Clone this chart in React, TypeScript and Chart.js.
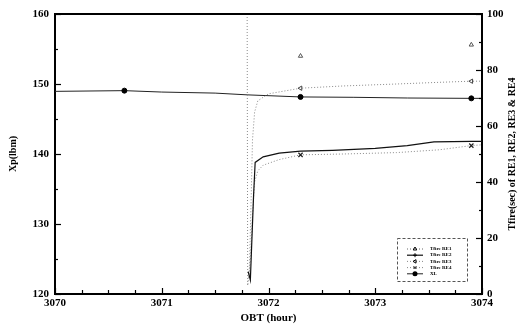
import React, { useEffect, useRef } from "react";
import { Chart, registerables } from "chart.js";
Chart.register(...registerables);

// ---- data ----
const X_LABEL = "OBT (hour)";
const Y_LEFT_LABEL = "Xp(lbm)";
const Y_RIGHT_LABEL = "Tfire(sec) of RE1, RE2, RE3 & RE4";

const MARKER_HOURS = [3070.65, 3072.3, 3073.9];

const RE1_HOURS = [3072.3, 3073.9];
const RE1 = [85, 89];

const RE2_HOURS = [3071.81, 3071.83, 3071.84, 3071.86, 3071.875, 3071.95, 3072.1, 3072.3, 3072.6, 3073.0, 3073.3, 3073.55, 3073.9, 3074];
const RE2 = [8, 5, 15, 35, 47, 49, 50.3, 51, 51.3, 52, 53, 54.3, 54.5, 54.5];

const RE3_HOURS = [3071.8, 3071.805, 3071.82, 3071.835, 3071.85, 3071.87, 3071.9, 3072.0, 3072.3, 3072.7, 3073.2, 3073.6, 3073.9, 3074];
const RE3 = [100, 3, 8, 30, 55, 65, 69, 71.5, 73.5, 74.3, 75, 75.6, 76, 76];

const RE4_HOURS = [3071.815, 3071.83, 3071.85, 3071.87, 3071.9, 3071.95, 3072.1, 3072.3, 3072.7, 3073.2, 3073.6, 3073.9, 3074];
const RE4 = [6, 12, 28, 40, 44, 46, 48, 49.7, 50, 50.5, 51.5, 53, 53.3];

const XL_HOURS = [3070, 3070.65, 3071, 3071.5, 3071.8, 3072.3, 3072.8, 3073.3, 3073.9, 3074];
const XL = [148.95, 149.05, 148.85, 148.7, 148.45, 148.15, 148.1, 148.0, 147.95, 147.95];

const LABELS = ["Tfire RE1", "Tfire RE2", "Tfire RE3", "Tfire RE4", "XL"];

const FONT = "'Liberation Serif', 'DejaVu Serif', serif";

function pts(h: number[], v: number[]) {
  return h.map((x, i) => ({ x, y: v[i] }));
}
function radii(h: number[], r: number) {
  return h.map((x) => (MARKER_HOURS.includes(x) ? r : 0));
}

function legendMarker(ctx: CanvasRenderingContext2D, style: string, rot: number, x: number, y: number, r: number) {
  ctx.save();
  ctx.translate(x, y);
  ctx.rotate((rot * Math.PI) / 180);
  ctx.lineWidth = 1;
  ctx.strokeStyle = "#000";
  ctx.beginPath();
  if (style === "triangle") {
    ctx.moveTo(0, -r);
    ctx.lineTo(r * 0.87, r * 0.5);
    ctx.lineTo(-r * 0.87, r * 0.5);
    ctx.closePath();
    ctx.fillStyle = "#fff";
    ctx.fill();
    ctx.stroke();
  } else if (style === "cross") {
    ctx.moveTo(0, -r); ctx.lineTo(0, r);
    ctx.moveTo(-r, 0); ctx.lineTo(r, 0);
    ctx.stroke();
  } else if (style === "crossRot") {
    ctx.moveTo(-r * 0.7, -r * 0.7); ctx.lineTo(r * 0.7, r * 0.7);
    ctx.moveTo(r * 0.7, -r * 0.7); ctx.lineTo(-r * 0.7, r * 0.7);
    ctx.stroke();
  } else {
    ctx.arc(0, 0, r, 0, Math.PI * 2);
    ctx.fillStyle = "#000";
    ctx.fill();
  }
  ctx.restore();
}

const decorPlugin = {
  id: "decor",
  afterDraw(chart: any) {
    const { ctx, chartArea: a, scales } = chart;
    ctx.save();
    ctx.strokeStyle = "#000";
    // top border
    ctx.lineWidth = 2;
    ctx.beginPath();
    ctx.moveTo(a.left, a.top);
    ctx.lineTo(a.right, a.top);
    ctx.stroke();
    // inward ticks
    ctx.lineWidth = 1.2;
    const x = scales.x;
    for (let v = 3070; v <= 3074.001; v += 0.25) {
      const p = Math.round(x.getPixelForValue(v)) + 0.5;
      const major = Math.abs(v - Math.round(v)) < 1e-6;
      ctx.beginPath();
      ctx.moveTo(p, a.bottom);
      ctx.lineTo(p, a.bottom - (major ? 6 : 4));
      ctx.stroke();
    }
    const y = scales.y;
    for (let v = 120; v <= 160; v += 5) {
      const p = Math.round(y.getPixelForValue(v)) + 0.5;
      const major = v % 10 === 0;
      ctx.beginPath();
      ctx.moveTo(a.left, p);
      ctx.lineTo(a.left + (major ? 6 : 3), p);
      ctx.stroke();
    }
    const y1 = scales.y1;
    for (let v = 0; v <= 100; v += 10) {
      const p = Math.round(y1.getPixelForValue(v)) + 0.5;
      const major = v % 20 === 0;
      ctx.beginPath();
      ctx.moveTo(a.right, p);
      ctx.lineTo(a.right - (major ? 6 : 3), p);
      ctx.stroke();
    }
    // titles
    ctx.fillStyle = "#000";
    ctx.font = `bold 11px ${FONT}`;
    ctx.textAlign = "center";
    ctx.textBaseline = "middle";
    ctx.fillText(X_LABEL, (a.left + a.right) / 2, 318);
    const cy = (a.top + a.bottom) / 2;
    ctx.save();
    ctx.translate(13, cy);
    ctx.rotate(-Math.PI / 2);
    ctx.font = `bold 10px ${FONT}`;
    ctx.fillText(Y_LEFT_LABEL, 0, 0);
    ctx.restore();
    ctx.save();
    ctx.translate(512, cy);
    ctx.rotate(-Math.PI / 2);
    ctx.font = `bold 10px ${FONT}`;
    ctx.fillText(Y_RIGHT_LABEL, 0, 0);
    ctx.restore();
    // legend
    const bx1 = a.right - 15, bx0 = bx1 - 70;
    const by1 = a.bottom - 13, by0 = by1 - 43;
    ctx.strokeStyle = "#555";
    ctx.lineWidth = 1;
    ctx.setLineDash([3, 2]);
    ctx.strokeRect(bx0 + 0.5, by0 + 0.5, bx1 - bx0, by1 - by0);
    ctx.setLineDash([]);
    chart.data.datasets.forEach((ds: any, i: number) => {
      const ry = by0 + 11 + i * 6.2;
      ctx.strokeStyle = ds.borderColor;
      ctx.lineWidth = ds.borderWidth;
      ctx.setLineDash(ds.borderDash || []);
      ctx.beginPath();
      ctx.moveTo(bx0 + 10, ry);
      ctx.lineTo(bx0 + 26, ry);
      ctx.stroke();
      ctx.setLineDash([]);
      legendMarker(ctx, ds.pointStyle, ds.pointRotation || 0, bx0 + 18, ry, i === 4 ? 2.5 : 2);
      ctx.fillStyle = "#000";
      ctx.font = `bold 5px ${FONT}`;
      ctx.textAlign = "left";
      ctx.fillText(ds.label, bx0 + 33, ry);
    });
    ctx.restore();
  },
};

export default function App() {
  const ref = useRef<HTMLCanvasElement>(null);
  useEffect(() => {
    const tickFont = { family: FONT, weight: "bold" as const, size: 11 };
    const chart = new Chart(ref.current!, {
      type: "line",
      data: {
        datasets: [
          {
            label: LABELS[0],
            data: pts(RE1_HOURS, RE1),
            yAxisID: "y1",
            showLine: false,
            borderColor: "#666",
            backgroundColor: "#fff",
            borderWidth: 1,
            borderDash: [1, 2],
            pointStyle: "triangle",
            pointRadius: radii(RE1_HOURS, 2.5),
            pointBorderColor: "#555",
            pointBackgroundColor: "#fff",
            pointBorderWidth: 1,
          } as any,
          {
            label: LABELS[1],
            data: pts(RE2_HOURS, RE2),
            yAxisID: "y1",
            borderColor: "#111",
            backgroundColor: "#111",
            borderWidth: 1.2,
            pointStyle: "cross",
            pointRadius: 0,
            tension: 0,
          },
          {
            label: LABELS[2],
            data: pts(RE3_HOURS, RE3),
            yAxisID: "y1",
            borderColor: "#888",
            backgroundColor: "#fff",
            borderWidth: 1,
            borderDash: [1, 2],
            pointStyle: "triangle",
            pointRotation: 270,
            pointRadius: radii(RE3_HOURS, 2.5),
            pointBorderColor: "#444",
            pointBackgroundColor: "#fff",
            pointBorderWidth: 1,
          } as any,
          {
            label: LABELS[3],
            data: pts(RE4_HOURS, RE4),
            yAxisID: "y1",
            borderColor: "#888",
            backgroundColor: "#fff",
            borderWidth: 1,
            borderDash: [1, 2],
            pointStyle: "crossRot",
            pointRadius: radii(RE4_HOURS, 3),
            pointBorderColor: "#222",
            pointBorderWidth: 1.2,
          },
          {
            label: LABELS[4],
            data: pts(XL_HOURS, XL),
            yAxisID: "y",
            borderColor: "#222",
            backgroundColor: "#000",
            borderWidth: 1,
            pointStyle: "circle",
            pointRadius: radii(XL_HOURS, 2.5),
            pointBackgroundColor: "#000",
            pointBorderColor: "#000",
          },
        ],
      },
      options: {
        responsive: false,
        animation: false,
        devicePixelRatio: 1,
        layout: { padding: { top: 14, left: 0, right: 0, bottom: 0 } },
        plugins: { legend: { display: false }, tooltip: { enabled: false } },
        scales: {
          x: {
            type: "linear",
            min: 3070,
            max: 3074,
            grid: { drawOnChartArea: false, drawTicks: false },
            border: { display: true, color: "#000", width: 2 },
            ticks: { stepSize: 1, padding: 3, color: "#000", font: tickFont, maxRotation: 0, callback: (v: any) => String(v) },
            afterFit: (s: any) => { s.height = 33; },
          },
          y: {
            type: "linear",
            position: "left",
            min: 120,
            max: 160,
            grid: { drawOnChartArea: false, drawTicks: false },
            border: { display: true, color: "#000", width: 2 },
            ticks: { stepSize: 10, padding: 6, color: "#000", font: tickFont },
            afterFit: (s: any) => { s.width = 55; },
          },
          y1: {
            type: "linear",
            position: "right",
            min: 0,
            max: 100,
            grid: { drawOnChartArea: false, drawTicks: false },
            border: { display: true, color: "#000", width: 2 },
            ticks: { stepSize: 20, padding: 5, color: "#000", font: tickFont },
            afterFit: (s: any) => { s.width = 37; },
          },
        },
      },
      plugins: [decorPlugin],
    } as any);
    return () => chart.destroy();
  }, []);
  return (
    <div style={{ position: "fixed", left: 0, top: 0, width: 519, height: 327, background: "#fff" }}>
      <canvas ref={ref} width={519} height={327} style={{ display: "block" }} />
    </div>
  );
}
